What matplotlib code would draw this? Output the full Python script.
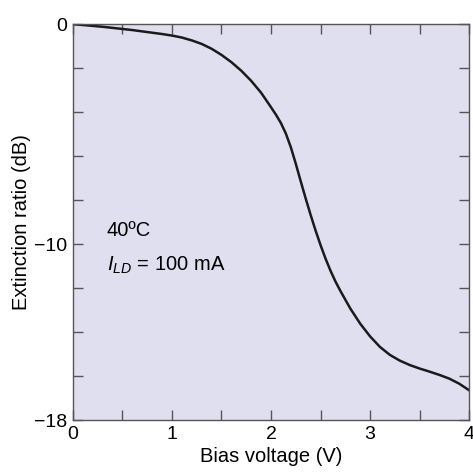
import matplotlib
matplotlib.use("Agg")
import matplotlib.pyplot as plt

plt.rcParams['font.family'] = ['Liberation Sans', 'DejaVu Sans']
plt.rcParams['mathtext.fontset'] = 'custom'
plt.rcParams['mathtext.rm'] = 'Liberation Sans'
plt.rcParams['mathtext.it'] = 'Liberation Sans:italic'

# Curva
voltaje = [0, 0.1, 0.2, 0.3, 0.4, 0.5, 0.6, 0.7, 0.8, 0.9, 1.0, 1.1, 1.2, 1.3,
           1.4, 1.5, 1.6, 1.7, 1.8, 1.9, 2.0, 2.05, 2.1, 2.15, 2.2, 2.25, 2.3,
           2.35, 2.4, 2.45, 2.5, 2.55, 2.6, 2.65, 2.7, 2.8, 2.9, 3.0, 3.1, 3.2,
           3.3, 3.4, 3.5, 3.6, 3.7, 3.8, 3.9, 4.0]
extincion = [0, -0.04, -0.08, -0.12, -0.17, -0.22, -0.27, -0.33, -0.39, -0.45,
             -0.52, -0.61, -0.74, -0.9, -1.12, -1.4, -1.73, -2.12, -2.58, -3.12,
             -3.78, -4.12, -4.5, -4.98, -5.6, -6.35, -7.15, -7.93, -8.68, -9.39,
             -10.05, -10.66, -11.21, -11.7, -12.13, -12.93, -13.62, -14.2,
             -14.68, -15.04, -15.3, -15.5, -15.66, -15.8, -15.95, -16.12,
             -16.35, -16.65]

xticks = [0, 0.5, 1, 1.5, 2, 2.5, 3, 3.5, 4]
xlabels = ['0', '', '1', '', '2', '', '3', '', '4']
yticks = [-18, -16, -14, -12, -10, -8, -6, -4, -2, 0]
ylabels = ['\u221218', '', '', '', '\u221210', '', '', '', '', '0']

fig = plt.figure(figsize=(4.73, 4.73), dpi=100)
ax = fig.add_axes([0.154, 0.112, 0.838, 0.837])
ax.set_facecolor('#dfdff0')

ax.plot(voltaje, extincion, color='#1a1a1a', lw=1.8)

ax.set_xlim(0, 4)
ax.set_ylim(-18, 0)
ax.set_xticks(xticks)
ax.set_xticklabels(xlabels)
ax.set_yticks(yticks)
ax.set_yticklabels(ylabels)
ax.tick_params(direction='in', length=7, width=1, color='#555555',
               top=True, right=True, labelsize=14)
ax.tick_params(axis='x', pad=4)
ax.tick_params(axis='y', pad=4)
for s in ax.spines.values():
    s.set_color('#555555')
    s.set_linewidth(1)

ax.set_xlabel('Bias voltage (V)', fontsize=14.5, labelpad=3)
ax.set_ylabel('Extinction ratio (dB)', fontsize=14.5, labelpad=2)

ax.text(0.34, -9.4, '40\u00baC', fontsize=14.5, va='center')
ax.text(0.34, -10.95, r'$\mathit{I}_{\mathit{LD}}$ = 100 mA', fontsize=14.5, va='center')

fig.savefig('out.png', dpi=100)
